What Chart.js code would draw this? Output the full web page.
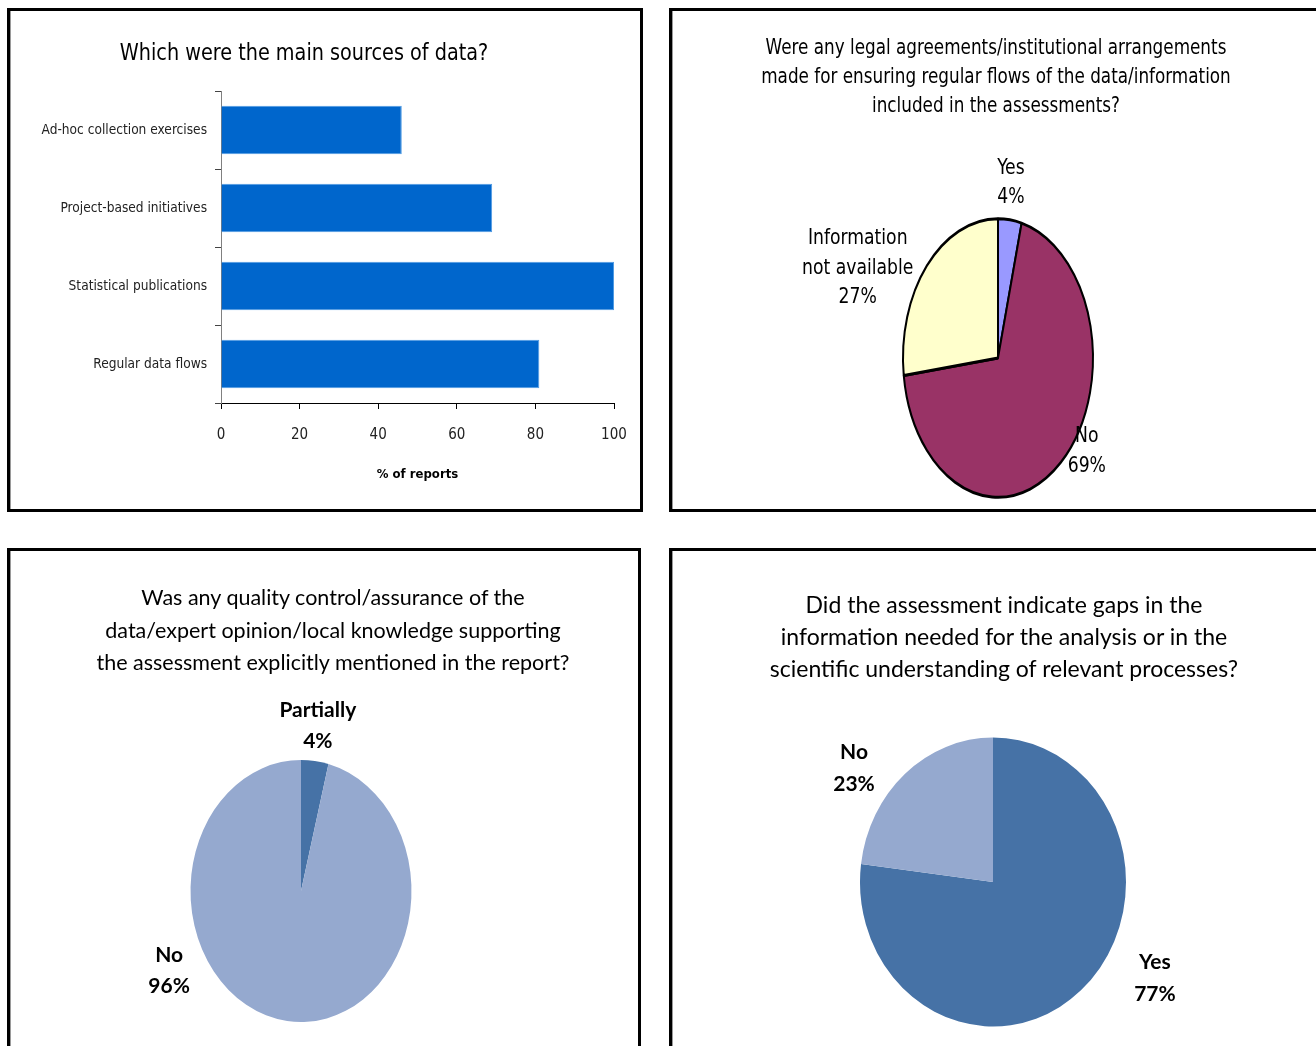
<!DOCTYPE html>
<html>
<head>
<meta charset="utf-8">
<title>Data sources and assessment survey</title>
<script src="https://cdn.jsdelivr.net/npm/chart.js@4.4.1/dist/chart.umd.min.js"></script>
<style>
  html, body { margin: 0; padding: 0; background: #fff; }
  body { position: relative; width: 1316px; height: 1046px; overflow: hidden; }
  .panel {
    position: absolute; box-sizing: border-box;
    border: 3px solid #000; background: #fff;
    box-shadow: inset 1px 0 0 #9a9a9a;
  }
  .panel canvas { position: absolute; left: 0; top: 0; }
  .title { position: absolute; text-align: center; color: #000; white-space: nowrap; transform-origin: 50% 50%; }
  .narrow { font-family: 'Liberation Sans Narrow', 'DejaVu Sans Condensed', sans-serif; }
  .soft { font-family: Lato, 'Open Sans', sans-serif; }
</style>
</head>
<body>

<div class="panel" style="left:7px; top:8px; width:636px; height:504px;">
  <canvas id="sources" width="630" height="498"></canvas>
</div>
<div class="title narrow" style="left:4px; top:38px; width:600px; font-size:23px; line-height:28px; transform:scaleX(0.93);">Which were the main sources of data?</div>

<div class="panel" style="left:669px; top:8px; width:660px; height:504px;">
  <canvas id="legal" width="644" height="498"></canvas>
</div>
<div class="title narrow" style="left:696px; top:32px; width:600px; font-size:22px; line-height:29px; transform:scaleX(0.85);">Were any legal agreements/institutional arrangements<br>made for ensuring regular flows of the data/information<br>included in the assessments?</div>

<div class="panel" style="left:7px; top:548px; width:634px; height:510px;">
  <canvas id="quality" width="628" height="495"></canvas>
</div>
<div class="title soft" style="left:33px; top:581px; width:600px; font-size:21.5px; line-height:32.5px;">Was any quality control/assurance of the<br>data/expert opinion/local knowledge supporting<br>the assessment explicitly mentioned in the report?</div>

<div class="panel" style="left:669px; top:548px; width:660px; height:510px;">
  <canvas id="gaps" width="644" height="495"></canvas>
</div>
<div class="title soft" style="left:704px; top:588px; width:600px; font-size:23px; line-height:32px;">Did the assessment indicate gaps in the<br>information needed for the analysis or in the<br>scientific understanding of relevant processes?</div>

<script>
// main sources of data (% of reports)
const sourceLabels = ['Ad-hoc collection exercises', 'Project-based initiatives', 'Statistical publications', 'Regular data flows'];
const sourceShares = [46, 69, 100, 81];
const reportTicks = [0, 20, 40, 60, 80, 100];

// legal agreements / institutional arrangements
const legalLabels = ['Yes', 'No', ['Information', 'not available']];
const legalShares = [4, 69, 27];

// quality control / assurance mentioned
const qualityLabels = ['Partially', 'No'];
const qualityShares = [4, 96];

// gaps in information / understanding
const gapLabels = ['Yes', 'No'];
const gapShares = [77, 23];

const NARROW = "'Liberation Sans Narrow', 'DejaVu Sans Condensed', sans-serif";
const SOFT = "Lato, 'Open Sans', sans-serif";

// squashes the round pie into an ellipse and writes "name / nn%" next to each slice
function pieLabels(cfg) {
  const textScale = cfg.textScale || 1;
  return {
    id: 'pieLabels',
    beforeDatasetsDraw(chart) {
      const arc = chart.getDatasetMeta(0).data[0];
      const ctx = chart.ctx;
      ctx.save();
      ctx.translate(arc.x, arc.y);
      ctx.scale(1, cfg.stretch);
      ctx.translate(-arc.x, -arc.y);
    },
    afterDatasetsDraw(chart) {
      chart.ctx.restore();
    },
    afterDraw(chart) {
      const ctx = chart.ctx;
      const meta = chart.getDatasetMeta(0);
      const values = chart.data.datasets[0].data;
      meta.data.forEach((arc, i) => {
        const mid = (arc.startAngle + arc.endAngle) / 2;
        const x = arc.x + Math.cos(mid) * arc.outerRadius + cfg.nudge[i][0];
        const y = arc.y + Math.sin(mid) * arc.outerRadius * cfg.stretch + cfg.nudge[i][1];
        const lines = [].concat(chart.data.labels[i], values[i] + '%');
        ctx.save();
        ctx.translate(x, y);
        ctx.scale(textScale, 1);
        ctx.font = cfg.font;
        ctx.fillStyle = '#000';
        ctx.textAlign = 'center';
        ctx.textBaseline = 'middle';
        lines.forEach((t, k) => {
          ctx.fillText(t, 0, (k - (lines.length - 1) / 2) * cfg.lineHeight);
        });
        ctx.restore();
      });
    }
  };
}

function pieOptions(padding) {
  return {
    responsive: false,
    animation: false,
    events: [],
    layout: { padding: padding },
    plugins: { legend: { display: false }, tooltip: { enabled: false } }
  };
}

new Chart(document.getElementById('sources'), {
  type: 'bar',
  data: {
    labels: sourceLabels,
    datasets: [{
      data: sourceShares,
      backgroundColor: '#0066CC',
      borderColor: '#4F9BE3',
      borderWidth: 1,
      barPercentage: 0.62,
      categoryPercentage: 1
    }]
  },
  options: {
    indexAxis: 'y',
    responsive: false,
    animation: false,
    events: [],
    layout: { padding: { top: 80, right: 26, bottom: 0, left: 0 } },
    plugins: { legend: { display: false }, tooltip: { enabled: false } },
    scales: {
      x: {
        min: 0,
        max: 100,
        afterBuildTicks(scale) { scale.ticks = reportTicks.map(v => ({ value: v })); },
        afterFit(scale) {
          scale.height = 106;
          // the "100" label fits inside the right padding already
          scale.paddingRight = 0;
        },
        grid: { drawOnChartArea: false, tickLength: 6, color: '#000' },
        border: { color: '#000' },
        ticks: { padding: 17, color: '#222', font: { family: NARROW, size: 15 } },
        title: {
          display: true,
          text: '% of reports',
          color: '#000',
          font: { family: NARROW, size: 13, weight: 'bold' },
          padding: { top: 0, bottom: 27 }
        }
      },
      y: {
        afterFit(scale) { scale.width = 211; },
        grid: { drawOnChartArea: false, tickLength: 6, color: '#444', offset: true },
        border: { color: '#808080' },
        ticks: { padding: 8, color: '#222', font: { family: NARROW, size: 13.6 } }
      }
    }
  }
});

new Chart(document.getElementById('legal'), {
  type: 'pie',
  data: {
    labels: legalLabels,
    datasets: [{
      data: legalShares,
      backgroundColor: ['#9999FF', '#993366', '#FFFFCC'],
      borderColor: '#000',
      borderWidth: 2,
      radius: 95,
      clip: false
    }]
  },
  options: pieOptions({ top: 196, right: 0, bottom: 0, left: 8 }),
  plugins: [pieLabels({
    stretch: 1.466,
    font: '22px ' + NARROW,
    textScale: 0.87,
    lineHeight: 29.5,
    nudge: [[1, -37], [26, -11], [-69, 2]]
  })]
});

new Chart(document.getElementById('quality'), {
  type: 'pie',
  data: {
    labels: qualityLabels,
    datasets: [{
      data: qualityShares,
      backgroundColor: ['#4672A6', '#95A9CF'],
      borderWidth: 0,
      radius: 110.5,
      clip: false
    }]
  },
  options: pieOptions({ top: 185, right: 46, bottom: 0, left: 0 }),
  plugins: [pieLabels({
    stretch: 1.186,
    font: 'bold 21px ' + SOFT,
    lineHeight: 31,
    nudge: [[3, -35], [-118, -50]]
  })]
});

new Chart(document.getElementById('gaps'), {
  type: 'pie',
  data: {
    labels: gapLabels,
    datasets: [{
      data: gapShares,
      backgroundColor: ['#4672A6', '#95A9CF'],
      borderWidth: 0,
      radius: 133,
      clip: false
    }]
  },
  options: pieOptions({ top: 167, right: 2, bottom: 0, left: 0 }),
  plugins: [pieLabels({
    stretch: 1.086,
    font: 'bold 21px ' + SOFT,
    lineHeight: 32,
    nudge: [[74, -12], [-51, -5]]
  })]
});
</script>
</body>
</html>
